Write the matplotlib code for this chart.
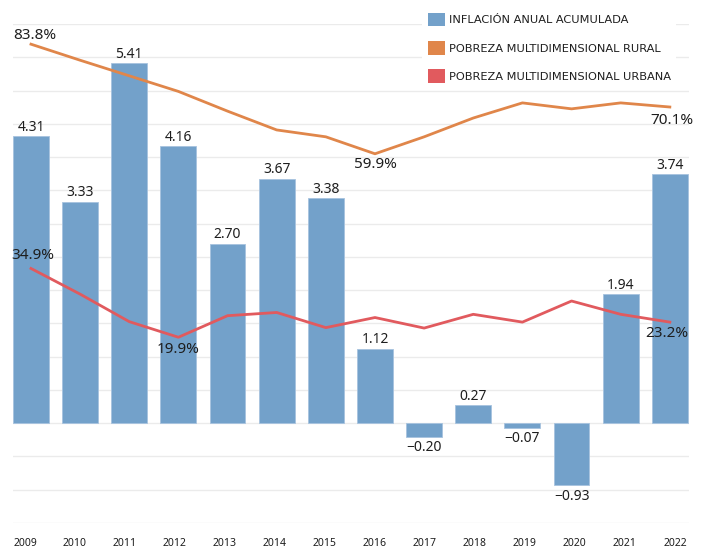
import matplotlib
matplotlib.use("Agg")
import matplotlib.pyplot as plt
from matplotlib.patches import Patch
from matplotlib import font_manager as fm
import numpy as np

years = ["2009", "2010", "2011", "2012", "2013", "2014", "2015",
         "2016", "2017", "2018", "2019", "2020", "2021", "2022"]
inflation = [4.31, 3.33, 5.41, 4.16, 2.70, 3.67, 3.38,
             1.12, -0.20, 0.27, -0.07, -0.93, 1.94, 3.74]
rural = [83.8, 80.3, 76.9, 73.5, 69.2, 65.1, 63.6,
         59.9, 63.6, 67.7, 71.0, 69.7, 71.0, 70.1]
urban = [34.9, 29.3, 23.3, 19.9, 24.6, 25.3, 22.0,
         24.2, 21.9, 24.9, 23.2, 27.8, 24.9, 23.2]
legend_labels = ["INFLACIÓN ANUAL ACUMULADA",
                 "POBREZA MULTIDIMENSIONAL RURAL",
                 "POBREZA MULTIDIMENSIONAL URBANA"]

BLUE = "#73a1ca"
ORANGE = "#e0864a"
RED = "#e15a5e"
TXT = "#1e1e1e"

names = {f.name for f in fm.fontManager.ttflist}
leg_family = ["DejaVu Sans Condensed", "DejaVu Sans"] if "DejaVu Sans Condensed" in names else ["DejaVu Sans"]

W, H = 703, 549
fig = plt.figure(figsize=(W / 100, H / 100), dpi=100)
ax = fig.add_axes([13 / W, (H - 523) / H, 676 / W, 499 / H])
x = np.arange(len(years))

ax.bar(x, inflation, width=0.73, color=BLUE, edgecolor="#a7c3df",
       linewidth=0.6, zorder=2)
ax.set_xlim(-0.366, 13.39)
ax.set_ylim(-1.5, 6.0)
ax.set_yticks(np.arange(-1.5, 6.01, 0.5))
ax.yaxis.grid(True, color="#ebebeb", linewidth=1.0)
ax.set_axisbelow(True)
ax.tick_params(axis="y", length=0, labelleft=False)
ax.set_xticks(np.arange(len(years)) * 1.0173 - 0.122)
ax.set_xticklabels(years, fontsize=7.5, family=["Noto Sans", "DejaVu Sans"],
                   color=TXT)
ax.tick_params(axis="x", length=0, pad=11)
for s in ax.spines.values():
    s.set_visible(False)

for xi, v in zip(x, inflation):
    lab = f"{v:.2f}".replace("-", "\u2212")
    off = 6.5 if v >= 0 else -8.0
    ax.annotate(lab, (xi, v), xytext=(0, off), textcoords="offset points",
                ha="center", va="center", fontsize=10,
                family=["Noto Sans", "DejaVu Sans"], color=TXT)

ax2 = ax.twinx()
ax2.set_ylim(-20.6, 88.2)
ax2.set_yticks([])
for s in ax2.spines.values():
    s.set_visible(False)
ax2.plot(x, rural, color=ORANGE, linewidth=2.0, solid_joinstyle="round")
ax2.plot(x, urban, color=RED, linewidth=2.0, solid_joinstyle="round")

pct_labels = [
    (0, rural[0], 3, 6.5),
    (7, rural[7], 0, -7.5),
    (13, rural[13], 1.5, -10),
    (0, urban[0], 1.5, 9.5),
    (3, urban[3], 0, -8.5),
    (13, urban[13], -2, -8.5),
]
for i, v, dx, dy in pct_labels:
    ax2.annotate(f"{v:.1f}%", (x[i], v), xytext=(dx, dy),
                 textcoords="offset points", ha="center", va="center",
                 fontsize=11, family=["Noto Sans", "DejaVu Sans"], color=TXT)

handles = [Patch(facecolor=BLUE, edgecolor="none"),
           Patch(facecolor=ORANGE, edgecolor="none"),
           Patch(facecolor=RED, edgecolor="none")]
leg = ax2.legend(handles, legend_labels, loc="upper left",
                 bbox_to_anchor=(422 / W, 1 - 7 / H),
                 bbox_transform=fig.transFigure,
                 frameon=True, facecolor="white", edgecolor="none",
                 framealpha=1.0, fancybox=False, borderaxespad=0,
                 borderpad=0.5, handlelength=1.55, handleheight=1.45,
                 handletextpad=0.3, labelspacing=1.3,
                 prop={"family": leg_family, "size": 8.2})
for t in leg.get_texts():
    t.set_color(TXT)

fig.savefig("out.png", dpi=100)
